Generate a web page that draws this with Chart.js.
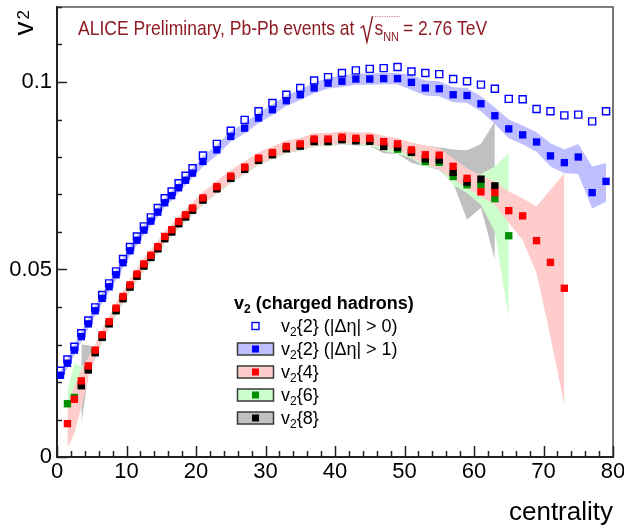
<!DOCTYPE html>
<html>
<head>
<meta charset="utf-8">
<script src="https://cdn.jsdelivr.net/npm/chart.js@4.4.1/dist/chart.umd.min.js"></script>
<style>
  html, body { margin: 0; padding: 0; background: #ffffff; }
  canvas { display: block; }
</style>
</head>
<body>
<canvas id="v2chart" width="624" height="528"></canvas>
<script>
// Centrality bin centres (%): 1%-wide bins up to 20%, 2%-wide bins above.
const centrality = [0.5,1.5,2.5,3.5,4.5,5.5,6.5,7.5,8.5,9.5,
  10.5,11.5,12.5,13.5,14.5,15.5,16.5,17.5,18.5,19.5,
  21,23,25,27,29,31,33,35,37,39,
  41,43,45,47,49,51,53,55,57,59,
  61,63,65,67,69,71,73,75,77,79];

// v2{2}, |Δη| > 0 (open squares)
const v2_2_gap0 = [0.0230,0.0260,0.0294,0.0330,0.0364,0.0399,0.0432,0.0463,0.0495,0.0528,
  0.0560,0.0588,0.0615,0.0639,0.0664,0.0690,0.0708,0.0730,0.0750,0.0770,
  0.0804,0.0835,0.0870,0.0899,0.0922,0.0944,0.0966,0.0984,0.1004,0.1013,
  0.1024,0.1031,0.1035,0.1037,0.1040,0.1028,0.1024,0.1021,0.1008,0.1002,
  0.0993,0.0982,0.0955,0.0954,0.0928,0.0922,0.0911,0.0913,0.0895,0.0922];

// v2{2}, |Δη| > 1 (filled blue) and its systematic band
const v2_2_gap1 = [0.0218,0.0250,0.0285,0.0321,0.0355,0.0390,0.0423,0.0454,0.0486,0.0518,
  0.0550,0.0578,0.0605,0.0629,0.0653,0.0678,0.0697,0.0718,0.0738,0.0757,
  0.0788,0.0819,0.0855,0.0877,0.0904,0.0926,0.0950,0.0966,0.0984,0.0997,
  0.1002,0.1008,0.1008,0.1009,0.1009,0.0999,0.0984,0.0982,0.0966,0.0964,
  0.0942,0.0910,0.0875,0.0859,0.0840,0.0803,0.0785,0.0800,0.0705,0.0735];
const v2_2_gap1_sysUp = [0.0013,0.0013,0.0013,0.0013,0.0013,0.0013,0.0013,0.0013,0.0013,0.0013,
  0.0013,0.0013,0.0013,0.0013,0.0013,0.0013,0.0013,0.0013,0.0013,0.0013,
  0.0014,0.0014,0.0014,0.0014,0.0014,0.0014,0.0014,0.0014,0.0014,0.0014,
  0.0015,0.0015,0.0015,0.0015,0.0015,0.0020,0.0020,0.0020,0.0020,0.0020,
  0.0020,0.0022,0.0025,0.0025,0.0026,0.0034,0.0035,0.0035,0.0070,0.0049];
const v2_2_gap1_sysDn = [0.0013,0.0013,0.0013,0.0013,0.0013,0.0013,0.0013,0.0013,0.0013,0.0013,
  0.0013,0.0013,0.0013,0.0013,0.0013,0.0013,0.0013,0.0013,0.0013,0.0013,
  0.0014,0.0014,0.0014,0.0014,0.0014,0.0014,0.0014,0.0014,0.0014,0.0014,
  0.0015,0.0015,0.0015,0.0015,0.0015,0.0020,0.0020,0.0020,0.0020,0.0020,
  0.0020,0.0022,0.0025,0.0025,0.0026,0.0028,0.0028,0.0045,0.0042,0.0054];

// v2{4} (red) and its systematic band
const v2_4 = [null,0.0089,0.0154,0.0203,0.0243,0.0285,0.0326,0.0361,0.0397,0.0428,
  0.0459,0.0488,0.0515,0.0538,0.0561,0.0588,0.0606,0.0628,0.0646,0.0664,
  0.0691,0.0721,0.0749,0.0773,0.0797,0.0812,0.0828,0.0835,0.0848,0.0848,
  0.0853,0.0850,0.0850,0.0841,0.0835,0.0819,0.0806,0.0805,0.0775,0.0743,
  0.0707,0.0705,0.0657,0.0643,0.0577,0.0519,0.0450,null,null,null];
const v2_4_sysUp = [null,0.0046,0.0036,0.0030,0.0022,0.0016,0.0015,0.0015,0.0015,0.0015,
  0.0015,0.0015,0.0015,0.0015,0.0015,0.0015,0.0015,0.0015,0.0015,0.0015,
  0.0016,0.0016,0.0016,0.0016,0.0016,0.0016,0.0016,0.0016,0.0016,0.0016,
  0.0016,0.0016,0.0016,0.0016,0.0016,0.0019,0.0025,0.0019,0.0022,0.0027,
  0.0043,0.0030,0.0051,0.0047,0.0091,0.0194,0.0307,null,null,null];
const v2_4_sysDn = [null,0.0064,0.0090,0.0070,0.0030,0.0018,0.0015,0.0015,0.0015,0.0015,
  0.0015,0.0015,0.0015,0.0015,0.0015,0.0015,0.0015,0.0015,0.0015,0.0015,
  0.0016,0.0016,0.0016,0.0016,0.0016,0.0016,0.0016,0.0016,0.0016,0.0016,
  0.0016,0.0016,0.0016,0.0016,0.0016,0.0019,0.0028,0.0037,0.0034,0.0026,
  0.0012,0.0032,0.0033,0.0064,0.0087,0.0199,0.0311,null,null,null];

// v2{6} (green) and its systematic band
const v2_6 = [null,0.0142,0.0159,0.0193,0.0235,0.0280,0.0321,0.0357,0.0392,0.0424,
  0.0455,0.0484,0.0511,0.0534,0.0557,0.0584,0.0602,0.0624,0.0642,0.0660,
  0.0687,0.0717,0.0745,0.0769,0.0793,0.0808,0.0824,0.0831,0.0843,0.0843,
  0.0848,0.0845,0.0844,0.0829,0.0821,0.0812,0.0788,0.0786,0.0748,0.0726,
  0.0726,0.0689,0.0590,null,null,null,null,null,null,null];
const v2_6_sysUp = [null,0.0033,0.0091,0.0047,0.0017,0.0013,0.0013,0.0013,0.0013,0.0013,
  0.0013,0.0013,0.0013,0.0013,0.0013,0.0013,0.0013,0.0013,0.0013,0.0013,
  0.0013,0.0013,0.0013,0.0013,0.0013,0.0013,0.0013,0.0013,0.0013,0.0013,
  0.0013,0.0013,0.0013,0.0013,0.0013,0.0015,0.0015,0.0014,0.0017,0.0019,
  0.0029,0.0086,0.0221,null,null,null,null,null,null,null];
const v2_6_sysDn = [null,0.0017,0.0099,0.0023,0.0013,0.0013,0.0013,0.0013,0.0013,0.0013,
  0.0013,0.0013,0.0013,0.0013,0.0013,0.0013,0.0013,0.0013,0.0013,0.0013,
  0.0013,0.0013,0.0013,0.0013,0.0013,0.0013,0.0013,0.0013,0.0013,0.0013,
  0.0013,0.0013,0.0013,0.0013,0.0013,0.0015,0.0015,0.0016,0.0022,0.0022,
  0.0053,0.0089,0.0219,null,null,null,null,null,null,null];

// v2{8} (black) and its systematic band
const v2_8 = [null,null,null,0.0190,0.0232,0.0278,0.0319,0.0355,0.0390,0.0422,
  0.0453,0.0482,0.0509,0.0532,0.0555,0.0582,0.0600,0.0622,0.0640,0.0658,
  0.0685,0.0715,0.0743,0.0767,0.0791,0.0806,0.0822,0.0829,0.0841,0.0841,
  0.0846,0.0843,0.0842,0.0828,0.0826,0.0813,0.0795,0.0792,0.0759,0.0733,
  0.0741,0.0723,null,null,null,null,null,null,null,null];
const v2_8_sysUp = [null,null,null,0.0110,0.0066,0.0016,0.0012,0.0012,0.0012,0.0012,
  0.0012,0.0012,0.0012,0.0012,0.0012,0.0012,0.0012,0.0012,0.0012,0.0012,
  0.0012,0.0012,0.0012,0.0012,0.0012,0.0012,0.0012,0.0012,0.0012,0.0012,
  0.0012,0.0012,0.0012,0.0012,0.0012,0.0025,0.0035,0.0034,0.0061,0.0085,
  0.0094,0.0172,null,null,null,null,null,null,null,null];
const v2_8_sysDn = [null,null,null,0.0100,0.0017,0.0016,0.0012,0.0012,0.0012,0.0012,
  0.0012,0.0012,0.0012,0.0012,0.0012,0.0012,0.0012,0.0012,0.0012,0.0012,
  0.0012,0.0012,0.0012,0.0012,0.0012,0.0012,0.0012,0.0012,0.0012,0.0012,
  0.0012,0.0012,0.0012,0.0018,0.0018,0.0028,0.0020,0.0026,0.0028,0.0100,
  0.0076,0.0197,null,null,null,null,null,null,null,null];

// Axis tick labels
const xTickLabels = [0, 10, 20, 30, 40, 50, 60, 70, 80];
const yTickLabels = [0, 0.05, 0.1];

// Texts
const titleLead = 'ALICE Preliminary, Pb-Pb events at';
const titleRadicand = 's';
const titleRadicandSub = 'NN';
const titleTail = '= 2.76 TeV';
const legendHeader = ' (charged hadrons)';
const legendNames = ['{2} (|\u0394\u03B7| > 0)', '{2} (|\u0394\u03B7| > 1)', '{4}', '{6}', '{8}'];

const FONT = '"Liberation Sans", Arial, Helvetica, sans-serif';
const TITLE_COLOR = '#8e1c24';
const COL = {
  blue: '#0000ff', blueBand: 'rgb(191,191,255)',
  red: '#ff0000', redBand: 'rgb(255,204,204)',
  green: '#008f00', greenBand: 'rgb(204,255,204)',
  black: '#000000', greyBand: 'rgb(192,192,192)'
};

function points(values) {
  const out = [];
  values.forEach((v, i) => { if (v !== null) out.push({ x: centrality[i], y: v }); });
  return out;
}

// Upper/lower edges of a systematic band; the upper edge fills down to the lower one.
function band(values, up, dn, color, order) {
  const hi = [], lo = [];
  values.forEach((v, i) => {
    if (v === null) return;
    hi.push({ x: centrality[i], y: v + up[i] });
    lo.push({ x: centrality[i], y: v - dn[i] });
  });
  const common = { showLine: true, borderColor: 'rgba(0,0,0,0)', borderWidth: 0, pointRadius: 0, tension: 0, order };
  return [
    Object.assign({ data: hi, fill: '+1', backgroundColor: color }, common),
    Object.assign({ data: lo, fill: false }, common)
  ];
}

function markers(values, fill, order, extra) {
  return Object.assign({
    data: points(values), showLine: false, pointStyle: 'rect', pointRadius: 5.2,
    pointBackgroundColor: fill, pointBorderWidth: 0, borderColor: fill, order
  }, extra || {});
}

const datasets = [
  // markers (low order = drawn on top)
  markers(v2_2_gap0, 'rgba(0,0,0,0)', 0, { pointBorderColor: COL.blue, pointBorderWidth: 1.4, pointRadius: 5.0 }),
  markers(v2_2_gap1, COL.blue, 1),
  markers(v2_4, COL.red, 2),
  markers(v2_8, COL.black, 3),
  markers(v2_6, COL.green, 4),
  // bands
  ...band(v2_2_gap1, v2_2_gap1_sysUp, v2_2_gap1_sysDn, COL.blueBand, 10),
  ...band(v2_4, v2_4_sysUp, v2_4_sysDn, COL.redBand, 11),
  ...band(v2_6, v2_6_sysUp, v2_6_sysDn, COL.greenBand, 12),
  ...band(v2_8, v2_8_sysUp, v2_8_sysDn, COL.greyBand, 13)
];

// Frame on top/right plus inward major/minor tick marks.
const framePlugin = {
  id: 'frameTicks',
  afterDatasetsDraw(chart) {
    const { ctx, chartArea: a, scales } = chart;
    ctx.save();
    ctx.strokeStyle = '#555';
    ctx.lineWidth = 1.6;
    ctx.beginPath();
    ctx.moveTo(a.left, a.top); ctx.lineTo(a.right, a.top); ctx.lineTo(a.right, a.bottom);
    ctx.stroke();

    ctx.strokeStyle = '#222';
    ctx.lineWidth = 1.5;
    ctx.beginPath();
    for (let k = 0; k <= 12; k++) {
      const v = k / 100;
      const y = Math.round(scales.y.getPixelForValue(v)) + 0.5;
      const len = (k % 5 === 0) ? 10 : 5;
      ctx.moveTo(a.left, y); ctx.lineTo(a.left + len, y);
    }
    for (let c = 0; c <= 80; c += 2) {
      const x = Math.round(scales.x.getPixelForValue(c)) + 0.5;
      const len = (c % 10 === 0) ? 11 : 6;
      ctx.moveTo(x, a.bottom); ctx.lineTo(x, a.bottom - len);
    }
    ctx.stroke();
    ctx.restore();
  }
};

// Header text, rotated v2 axis label and the legend block.
const textPlugin = {
  id: 'texts',
  afterDraw(chart) {
    const ctx = chart.ctx;
    ctx.save();
    ctx.textBaseline = 'alphabetic';
    ctx.textAlign = 'left';

    // header line
    ctx.fillStyle = TITLE_COLOR;
    const sx = 0.835, base = 35;
    let x = 78;
    const piece = (txt, size, dy) => {
      ctx.font = size + 'px ' + FONT;
      ctx.save(); ctx.translate(x, base + dy); ctx.scale(sx, 1); ctx.fillText(txt, 0, 0); ctx.restore();
      x += ctx.measureText(txt).width * sx;
    };
    piece(titleLead, 21, 0);
    x += 6;
    const r0 = x;
    ctx.strokeStyle = TITLE_COLOR;
    ctx.lineWidth = 1.4;
    ctx.beginPath();
    ctx.moveTo(r0, base - 7); ctx.lineTo(r0 + 3, base - 9); ctx.lineTo(r0 + 6.5, base + 7); ctx.lineTo(r0 + 12, base - 18.5);
    ctx.stroke();
    x = r0 + 14;
    piece(titleRadicand, 21, 0);
    piece(titleRadicandSub, 13, 6);
    ctx.strokeStyle = 'rgba(142,28,36,0.55)';
    ctx.lineWidth = 1;
    ctx.setLineDash([1.2, 1.2]);
    ctx.beginPath(); ctx.moveTo(r0 + 12, base - 18.5); ctx.lineTo(x + 1, base - 18.5); ctx.stroke();
    ctx.setLineDash([]);
    x += 4;
    piece(titleTail, 21, 0);

    // rotated axis label v2
    ctx.fillStyle = '#000';
    ctx.save();
    ctx.translate(33, 35.5);
    ctx.rotate(-Math.PI / 2);
    ctx.font = '28px ' + FONT;
    ctx.fillText('v', 0, 0);
    const vw = ctx.measureText('v').width;
    ctx.font = '17px ' + FONT;
    ctx.fillText('2', vw + 2, -4);
    ctx.restore();

    // legend header
    const hx = 234, hy = 309;
    ctx.font = 'bold 18px ' + FONT;
    ctx.fillText('v', hx, hy);
    let lx = hx + ctx.measureText('v').width;
    ctx.font = 'bold 12px ' + FONT;
    ctx.fillText('2', lx, hy + 4);
    lx += ctx.measureText('2').width;
    ctx.font = 'bold 18px ' + FONT;
    ctx.fillText(legendHeader, lx, hy);

    // legend rows
    const rowY = [326, 349, 372, 395, 418];
    const boxFill = [null, COL.blueBand, COL.redBand, COL.greenBand, COL.greyBand];
    const mark = [COL.blue, COL.blue, COL.red, COL.green, COL.black];
    const mx = 255.5, ms = 7;
    rowY.forEach((y, i) => {
      if (boxFill[i]) {
        ctx.fillStyle = boxFill[i];
        ctx.fillRect(237.5, y - 6, 36, 12);
        ctx.strokeStyle = '#3a3a3a';
        ctx.lineWidth = 1.5;
        ctx.strokeRect(237.5, y - 6, 36, 12);
        ctx.fillStyle = mark[i];
        ctx.fillRect(mx - ms / 2, y - ms / 2, ms, ms);
      } else {
        ctx.strokeStyle = mark[i];
        ctx.lineWidth = 1.4;
        ctx.strokeRect(mx - 3.5, y - 3.5, 7, 7);
      }
      ctx.fillStyle = '#000';
      const by = y + 6;
      let tx = 281;
      ctx.font = '18px ' + FONT;
      ctx.fillText('v', tx, by);
      tx += ctx.measureText('v').width;
      ctx.font = '12px ' + FONT;
      ctx.fillText('2', tx, by + 4);
      tx += ctx.measureText('2').width;
      ctx.font = '18px ' + FONT;
      ctx.fillText(legendNames[i], tx, by);
    });
    ctx.restore();
  }
};

new Chart(document.getElementById('v2chart'), {
  type: 'line',
  data: { datasets },
  options: {
    responsive: false,
    animation: false,
    events: [],
    layout: { padding: { top: 7, right: 11, left: 0, bottom: 0 } },
    plugins: { legend: { display: false }, tooltip: { enabled: false } },
    scales: {
      x: {
        type: 'linear', min: 0, max: 80,
        afterBuildTicks: s => { s.ticks = xTickLabels.map(v => ({ value: v })); },
        afterFit: s => { s.height = 71; s.paddingLeft = 0; s.paddingRight = 0; },
        grid: { display: false, drawTicks: false },
        border: { display: true, color: '#222', width: 2 },
        ticks: { color: '#000', font: { family: FONT, size: 22 }, padding: 2, maxRotation: 0, autoSkip: false,
                 callback: v => String(v) },
        title: { display: true, text: 'centrality', align: 'end', color: '#000',
                 font: { family: FONT, size: 26 }, padding: { top: 0, bottom: 0 } }
      },
      y: {
        type: 'linear', min: 0, max: 0.12,
        afterBuildTicks: s => { s.ticks = yTickLabels.map(v => ({ value: v })); },
        afterFit: s => { s.width = 57; s.paddingTop = 0; s.paddingBottom = 0; },
        grid: { display: false, drawTicks: false },
        border: { display: true, color: '#222', width: 2 },
        ticks: { color: '#000', font: { family: FONT, size: 22 }, padding: 5, autoSkip: false,
                 callback: v => String(v) }
      }
    }
  },
  plugins: [framePlugin, textPlugin]
});
</script>
</body>
</html>
